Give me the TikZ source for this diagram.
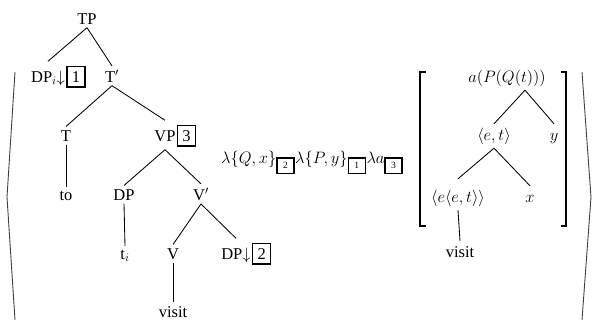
\documentclass[tikz,border=0pt]{standalone}
\usepackage{fix-cm}
\usepackage{fontspec}
\setmainfont{Liberation Serif}
\usetikzlibrary{calc}
% boxed index tags
\newcommand\bigtag[1]{{\setlength\fboxsep{4.2pt}\setlength\fboxrule{1.3pt}\fbox{#1}}}
\newcommand\smalltag[1]{\mbox{\setlength\fboxsep{4pt}\setlength\fboxrule{1.3pt}\fbox{\hspace{1.5pt}\fontsize{9.5}{9.5}\selectfont #1\hspace{1.5pt}}}}
\begin{document}
\begin{tikzpicture}[x=1pt,y=-1pt,
  tn/.style={anchor=base, inner xsep=1pt, inner ysep=3.5pt, font=\fontsize{16.5}{20}\selectfont},
  boxed/.style={text height=17pt, text depth=5pt},
  rn/.style={anchor=base, inner xsep=1pt, inner ysep=4pt, text height=12pt, text depth=4pt, font=\fontsize{16.5}{20}\selectfont},
  tag/.style={anchor=base west, inner sep=0pt, font=\fontsize{16.5}{20}\selectfont},
  branch/.style={line width=0.85pt},
  delim/.style={line width=0.9pt, draw=black!75},
  bracket/.style={line width=2.4pt}
]
\useasboundingbox (0,0) rectangle (598,322);

% outer angle delimiters
\draw[delim] (15,72) -- (7,197) -- (15,320);
\draw[delim] (582,72) -- (591,197) -- (582,320);

% syntactic tree
\node[tn] (tp)   at (87,24)  {TP};
\node[tn,boxed] (dpi) at (48,82) {DP$_i$$\downarrow$};
\node[tag] (t1)  at (dpi.base east) {\bigtag{1}};
\node[tn] (tbar) at (112,82) {T$'$};
\node[tn] (t)    at (66,141) {T};
\node[tn,boxed] (vp) at (165,141) {VP};
\node[tag] (t3)  at (vp.base east) {\bigtag{3}};
\node[tn] (to)   at (66,200) {to};
\node[tn] (dp)   at (124,200) {DP};
\node[tn] (vbar) at (201,200) {V$'$};
\node[tn] (ti)   at (125,259) {t$_i$};
\node[tn] (v)    at (173,259) {V};
\node[tn,boxed] (dpd) at (236,259) {DP$\downarrow$};
\node[tag] (t2)  at (dpd.base east) {\bigtag{2}};
\node[tn] (visit) at (173,317) {visit};

\draw[branch] (tp.south) -- (dpi.north);
\draw[branch] (tp.south) -- (tbar.north);
\draw[branch] (tbar.south) -- (t.north);
\draw[branch] (tbar.south) -- (vp.north);
\draw[branch] (t.south) -- (to.north);
\draw[branch] (vp.south) -- (dp.north);
\draw[branch] (vp.south) -- (vbar.north);
\draw[branch] (dp.south) -- (ti.north);
\draw[branch] (vbar.south) -- (v.north);
\draw[branch] (vbar.south) -- (dpd.north);
\draw[branch] (v.south) -- (visit.north);

% lambda prefix
\node[tag] (lam) at (221,163)
  {$\lambda\{Q,x\}_{\smalltag{2}}\lambda\{P,y\}_{\smalltag{1}}\lambda a_{\smalltag{3}}$};

% semantic tree in square brackets
\draw[bracket] (426,72) -- (420,72) -- (420,226) -- (426,226);
\draw[bracket] (561,72) -- (566,72) -- (566,226) -- (561,226);

\node[rn] (top)  at (507,82)  {$a(P(Q(t)))$};
\node[rn] (et)   at (494,140) {$\langle e,t\rangle$};
\node[rn] (y)    at (554,140) {$y$};
\node[rn,text height=19pt] (eet) at (458,202) {$\langle e\langle e,t\rangle\rangle$};
\node[rn] (x)    at (530,202) {$x$};
\node[rn] (vis)  at (460,257) {visit};

\coordinate (topfoot) at ($(top.south)+(18,0)$);
\draw[branch] (topfoot) -- (et.north);
\draw[branch] (topfoot) -- (y.north);
\draw[branch] (et.south) -- (eet.north);
\draw[branch] (et.south) -- (x.north);
\draw[branch] (eet.south) -- (vis.north);
\end{tikzpicture}
\end{document}
